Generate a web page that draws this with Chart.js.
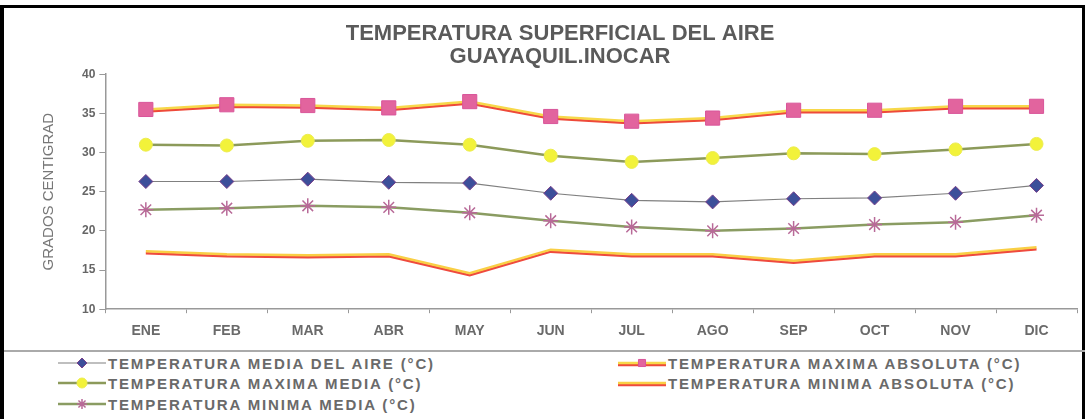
<!DOCTYPE html>
<html>
<head>
<meta charset="utf-8">
<script src="https://cdn.jsdelivr.net/npm/chart.js@4.4.0/dist/chart.umd.min.js"></script>
<style>
  body { margin: 0; background: #fff; font-family: "Liberation Sans", Arial, sans-serif; }
  #frame { position: relative; width: 1088px; height: 419px; overflow: hidden; }
  #box { position: absolute; left: 0; top: 5px; width: 1085px; height: 420px;
         border-left: 4px solid #000; border-top: 3px solid #000; border-right: 3px solid #000; box-sizing: border-box; }
  #wrap { position: absolute; left: 0; top: 0; width: 1088px; height: 350px; }
  #sep { position: absolute; left: 4px; top: 350px; width: 1081px; height: 0; border-top: 2px solid #aaa; }
  .lg { position: absolute; height: 18px; display: flex; align-items: center;
        font: bold 15px "Liberation Sans", Arial, sans-serif; letter-spacing: 1.85px; color: #6a6a6a; white-space: nowrap; }
  .lg canvas { margin-right: 2px; }
</style>
</head>
<body>
<div id="frame">
  <div id="box"></div>
  <div id="wrap"><canvas id="temps"></canvas></div>
  <div id="sep"></div>
  <div id="legend"></div>
</div>
<script>
var meses = ["ENE", "FEB", "MAR", "ABR", "MAY", "JUN", "JUL", "AGO", "SEP", "OCT", "NOV", "DIC"];
var yTicks = [10, 15, 20, 25, 30, 35, 40];

var media_aire   = [26.3, 26.3, 26.6, 26.2, 26.1, 24.8, 23.9, 23.7, 24.1, 24.2, 24.8, 25.8];
var maxima_abs   = [35.5, 36.1, 36.0, 35.7, 36.5, 34.6, 34.0, 34.4, 35.4, 35.4, 35.9, 35.9];
var maxima_media = [31.0, 30.9, 31.5, 31.6, 31.0, 29.6, 28.8, 29.3, 29.9, 29.8, 30.4, 31.1];
var minima_abs   = [17.4, 17.0, 16.9, 17.0, 14.6, 17.6, 17.0, 17.0, 16.2, 17.0, 17.0, 17.9];
var minima_media = [22.7, 22.9, 23.2, 23.0, 22.3, 21.3, 20.5, 20.0, 20.3, 20.8, 21.1, 22.0];

// draws a second coloured line just under the dataset line (the two-tone look of the scan)
var underLine = {
	id: 'underLine',
	beforeDatasetDraw: function(chart, args) {
		var ds = chart.data.datasets[args.index];
		if (!ds.underColor) return;
		var pts = args.meta.data;
		var ctx = chart.ctx;
		ctx.save();
		ctx.strokeStyle = ds.underColor;
		ctx.lineWidth = 2.5;
		ctx.beginPath();
		for (var i = 0; i < pts.length; i++) {
			if (i == 0) ctx.moveTo(pts[i].x, pts[i].y + 2);
			else ctx.lineTo(pts[i].x, pts[i].y + 2);
		}
		ctx.stroke();
		ctx.restore();
	}
};

var config = {
	type: 'line',
	data: {
		labels: meses,
		datasets: [{
			label: "TEMPERATURA MEDIA DEL AIRE (°C)",
			data: media_aire,
			borderColor: '#808080',
			borderWidth: 1.2,
			pointStyle: 'rectRot',
			pointRadius: 7,
			pointBackgroundColor: '#3d4f9a',
			pointBorderColor: '#7a3f8a',
			pointBorderWidth: 1
		}, {
			label: "TEMPERATURA MAXIMA ABSOLUTA (°C)",
			data: maxima_abs,
			borderColor: '#f7d84a',
			underColor: '#ee4a3a',
			borderWidth: 2.5,
			pointStyle: 'rect',
			pointRadius: 10,
			pointBackgroundColor: '#e2649e',
			pointBorderColor: '#d9559a',
			pointBorderWidth: 1
		}, {
			label: "TEMPERATURA MAXIMA MEDIA (°C)",
			data: maxima_media,
			borderColor: '#8c9a5a',
			borderWidth: 2.5,
			pointStyle: 'circle',
			pointRadius: 6.5,
			pointBackgroundColor: '#f2f23a',
			pointBorderColor: '#ecec50',
			pointBorderWidth: 1
		}, {
			label: "TEMPERATURA MINIMA ABSOLUTA (°C)",
			data: minima_abs,
			borderColor: '#f9cf45',
			underColor: '#ef4a3e',
			borderWidth: 2.5,
			pointRadius: 0
		}, {
			label: "TEMPERATURA MINIMA MEDIA (°C)",
			data: minima_media,
			borderColor: '#8a9c62',
			borderWidth: 2.5,
			pointStyle: 'star',
			pointRadius: 7.5,
			pointBackgroundColor: '#c07aa0',
			pointBorderColor: '#b86a98',
			pointBorderWidth: 1.5
		}]
	},
	options: {
		responsive: true,
		maintainAspectRatio: false,
		animation: false,
		tension: 0,
		layout: { padding: { left: 40, right: 8, top: 10, bottom: 0 } },
		plugins: {
			legend: { display: false },
			tooltip: { enabled: false },
			title: {
				display: true,
				text: ["TEMPERATURA SUPERFICIAL DEL AIRE", "GUAYAQUIL.INOCAR"],
				color: '#5a5a5a',
				font: { family: "Liberation Sans", size: 22, weight: 'bold', lineHeight: 1.05 },
				padding: { top: 12, bottom: 6 }
			}
		},
		scales: {
			y: {
				min: 10,
				max: 40,
				afterBuildTicks: function(axis) {
					axis.ticks = yTicks.map(function(v) { return { value: v }; });
				},
				border: { color: '#999', width: 1.5 },
				grid: { drawOnChartArea: false, tickLength: 6, color: '#999' },
				ticks: { color: '#666', font: { family: "Liberation Sans", size: 12, weight: 'bold' }, padding: 4 },
				title: {
					display: true,
					text: "GRADOS CENTIGRAD",
					color: '#777',
					font: { family: "Liberation Sans", size: 15 },
					padding: { top: 0, bottom: 20 }
				}
			},
			x: {
				offset: true,
				border: { color: '#999', width: 1.5 },
				grid: { drawOnChartArea: false, tickLength: 4, color: '#999', offset: true },
				ticks: { color: '#6a6a6a', font: { family: "Liberation Sans", size: 14, weight: 'bold' }, padding: 10 }
			}
		}
	},
	plugins: [underLine]
};

window.myChart = new Chart(document.getElementById('temps'), config);

// legend in two columns, like the original
var spots = [[58, 354], [618, 354], [58, 374], [618, 374], [58, 395]];
var legend = document.getElementById('legend');
myChart.data.datasets.forEach(function(ds, i) {
	var item = document.createElement('div');
	item.className = 'lg';
	item.style.left = spots[i][0] + 'px';
	item.style.top = spots[i][1] + 'px';
	var c = document.createElement('canvas');
	c.width = 48; c.height = 18;
	var g = c.getContext('2d');
	if (ds.underColor) {
		g.strokeStyle = ds.underColor; g.lineWidth = 2.5;
		g.beginPath(); g.moveTo(0, 11); g.lineTo(48, 11); g.stroke();
	}
	g.strokeStyle = ds.borderColor; g.lineWidth = ds.borderWidth;
	g.beginPath(); g.moveTo(0, 9); g.lineTo(48, 9); g.stroke();
	if (ds.pointRadius) {
		g.fillStyle = ds.pointBackgroundColor;
		g.strokeStyle = ds.pointBorderColor;
		g.lineWidth = ds.pointBorderWidth;
		Chart.helpers.drawPoint(g, { pointStyle: ds.pointStyle, radius: 5, borderWidth: ds.pointBorderWidth }, 24, 9);
	}
	item.appendChild(c);
	var t = document.createElement('span');
	t.textContent = ds.label;
	item.appendChild(t);
	legend.appendChild(item);
});
</script>
</body>
</html>
